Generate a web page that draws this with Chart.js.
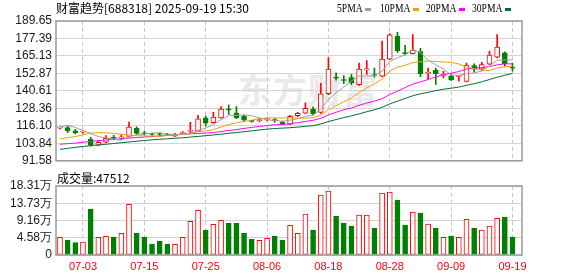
<!DOCTYPE html>
<html>
<head>
<meta charset="utf-8">
<script src="https://cdn.jsdelivr.net/npm/chart.js@4.4.0/dist/chart.umd.min.js"></script>
<style>
  body { margin: 0; background: #fff; width: 578px; height: 276px; overflow: hidden; position: relative; }
  canvas { position: absolute; left: 0; }
  #price { top: 0; }
  #vol { top: 172px; }
  .txt { position: absolute; white-space: nowrap; color: #000; }
  .title { left: 56px; top: 0px; font: 12px "Noto Sans CJK SC", sans-serif; line-height: 16px; }
  .vlabel { left: 57px; top: 170px; font: 12px "Noto Sans CJK SC", sans-serif; line-height: 16px; }
  .lg { top: 1px; font: 12px "Liberation Serif", serif; line-height: 14px; transform: scaleX(0.8); transform-origin: left; }
  .sw { position: absolute; top: 8px; width: 6px; height: 3px; }
  .wm { left: 238px; top: 71px; font: bold 34px "Noto Sans CJK SC", sans-serif; line-height: 36px; color: #e9e9e9; letter-spacing: 1px; }
</style>
</head>
<body>
<div class="txt wm">东方财富</div>
<canvas id="price" width="578" height="172"></canvas>
<canvas id="vol" width="578" height="104"></canvas>
<div class="txt title">财富趋势[688318] 2025-09-19 15:30</div>
<div class="txt lg" style="left:337px">5PMA</div><div class="sw" style="left:365px;background:#a0a0a0"></div>
<div class="txt lg" style="left:380px">10PMA</div><div class="sw" style="left:413px;background:#f0a000"></div>
<div class="txt lg" style="left:426px">20PMA</div><div class="sw" style="left:459px;background:#ff00ff"></div>
<div class="txt lg" style="left:472px">30PMA</div><div class="sw" style="left:505px;background:#006f35"></div>
<div class="txt vlabel" id="volLabel"></div>
<script>
// trading days 2025-06-30 .. 2025-09-19
const dates = [
  '06-30','07-01','07-02','07-03','07-04','07-07','07-08','07-09','07-10','07-11',
  '07-14','07-15','07-16','07-17','07-18','07-21','07-22','07-23','07-24','07-25',
  '07-28','07-29','07-30','07-31','08-01','08-04','08-05','08-06','08-07','08-08',
  '08-11','08-12','08-13','08-14','08-15','08-18','08-19','08-20','08-21','08-22',
  '08-25','08-26','08-27','08-28','08-29','09-01','09-02','09-03','09-04','09-05',
  '09-08','09-09','09-10','09-11','09-12','09-15','09-16','09-17','09-18','09-19'
];
const openP = [
  114.5,114.9,112.6,111.7,106.6,102.5,104.6,108.0,107.6,108.6,
  114.3,111.2,110.5,110.4,110.2,108.8,110.6,112.3,112.6,121.7,
  118.4,121.7,127.7,125.2,122.9,119.5,119.8,120.3,120.2,118.8,
  117.3,123.2,125.0,127.9,125.5,138.6,150.0,148.3,150.0,144.9,
  155.4,151.8,151.0,162.9,178.9,167.2,166.8,168.2,152.9,155.0,
  151.5,151.0,150.8,147.2,158.4,155.8,159.3,164.2,167.4,157.0
];
const highP = [
  115.4,115.9,113.6,112.9,108.0,105.9,109.2,109.4,110.0,118.8,
  115.4,112.5,111.0,111.2,110.8,110.9,112.0,118.6,123.4,122.9,
  125.6,129.7,130.9,129.7,123.7,119.9,121.5,121.5,121.2,119.2,
  123.4,125.6,132.2,129.4,145.9,164.0,153.3,151.3,152.2,160.1,
  161.9,156.7,175.6,180.8,181.7,172.6,180.1,170.4,156.7,156.7,
  154.3,152.6,151.6,160.1,159.6,160.6,168.5,180.1,168.0,160.1
];
const lowP = [
  113.9,111.3,110.4,110.9,101.8,102.2,104.3,106.2,106.6,108.3,
  110.0,109.5,109.3,109.4,109.2,108.6,110.2,110.6,112.2,116.1,
  118.0,121.4,124.1,121.1,119.4,118.6,118.8,119.5,118.6,116.9,
  117.0,122.6,124.6,123.6,124.8,138.0,148.1,145.6,144.9,144.5,
  152.2,150.2,150.6,162.5,167.6,165.8,166.5,150.6,148.8,145.2,
  149.8,147.8,147.5,147.0,153.8,154.6,159.0,163.8,157.9,154.5
];
const closeP = [
  114.8,112.8,111.4,112.0,102.5,104.5,107.4,107.2,108.4,115.2,
  110.8,110.5,110.0,110.0,109.7,110.2,111.0,112.7,121.1,117.9,
  122.2,127.9,127.3,121.7,120.0,119.2,120.1,120.6,119.8,117.3,
  122.7,124.9,128.4,124.6,138.6,156.0,149.5,147.9,146.2,156.0,
  155.7,151.4,162.9,180.0,168.8,166.8,169.2,152.5,153.3,152.7,
  151.8,148.5,151.2,158.7,155.8,159.0,165.8,171.3,159.8,156.6
];
const ma5 = [
  115.4,116.4,115.0,112.8,110.7,108.6,107.6,106.7,106.0,108.5,
  109.8,110.4,111.0,111.3,110.2,110.1,110.2,110.7,112.9,114.6,
  117.0,120.4,123.3,123.4,123.8,123.2,121.7,120.3,119.9,119.4,
  120.1,121.1,122.6,123.6,127.8,134.5,139.4,143.3,147.6,151.1,
  151.1,151.4,154.4,161.2,163.8,166.0,169.5,167.5,162.1,158.9,
  155.9,151.8,151.5,152.6,153.2,154.6,158.1,162.1,162.3,162.5
];
const ma10 = [
  107.0,107.8,108.6,109.8,111.0,111.3,111.2,110.8,110.2,109.6,
  109.2,109.0,108.9,108.7,109.4,109.9,110.3,110.9,112.1,112.4,
  113.5,115.3,117.0,118.2,119.2,120.1,121.0,121.8,121.7,121.6,
  121.7,121.4,121.5,121.8,123.6,127.3,130.2,133.0,135.6,139.5,
  142.8,145.4,148.9,154.4,157.4,158.5,160.5,161.0,161.7,161.3,
  160.9,160.7,159.5,157.4,156.1,155.3,154.9,156.8,157.5,157.9
];
const ma20 = [
  103.2,103.6,104.0,104.6,105.2,105.7,106.2,106.6,107.0,107.5,
  107.9,108.2,108.6,109.0,109.4,109.8,110.2,110.5,110.8,111.0,
  111.4,112.1,112.9,113.4,114.3,115.0,115.7,116.3,116.9,117.0,
  117.6,118.3,119.2,120.0,121.4,123.7,125.6,127.4,128.6,130.5,
  132.2,133.4,135.2,138.1,140.5,142.9,145.4,147.0,148.6,150.4,
  151.9,153.0,154.2,155.9,156.7,156.9,157.7,158.9,159.6,159.6
];
const ma30 = [
  99.6,100.3,101.0,101.6,102.2,102.7,103.2,103.7,104.3,104.8,
  105.3,105.8,106.3,106.7,107.0,107.4,107.7,108.2,108.7,109.2,
  109.7,110.3,110.9,111.4,112.0,112.6,113.2,113.8,114.2,114.5,
  114.8,115.2,115.8,116.2,117.4,119.1,120.5,121.9,123.1,124.5,
  126.0,127.4,129.1,131.5,133.4,135.3,137.2,138.6,139.6,140.8,
  141.8,142.5,143.3,144.5,145.7,147.0,148.6,150.2,151.6,152.9
];
const volume = [
  47000,39800,32700,34500,122100,47000,49600,47800,57500,134500,
  58400,47800,29200,37200,29200,28300,47000,89400,118500,66400,
  81400,92000,84900,84900,58400,41600,38900,44200,50400,39800,
  78700,57500,108800,66400,159200,169900,103500,84900,77000,106200,
  106200,71700,164500,167200,146000,79600,114100,111500,82300,71700,
  46900,50400,46900,94700,71700,66400,77000,97300,100900,47512
];
const priceTicks = [91.58, 103.84, 116.10, 128.36, 140.61, 152.87, 165.13, 177.39, 189.65];
const volTicks = [0, 45800, 91550, 137300, 183100];
const volTickLabels = ['0', '4.58万', '9.16万', '13.73万', '18.31万'];
const xTickLabels = ['07-03', '07-15', '07-25', '08-06', '08-18', '08-28', '09-09', '09-19'];

const RED = '#ff0000';
const GREEN = '#008000';
const idx = dates.map((_, i) => i);
const isUp = i => closeP[i] >= openP[i];
const xTicks = xTickLabels.map(l => dates.indexOf(l));
const tickFont = { family: '"Liberation Sans", Arial, sans-serif', size: 12 };

document.getElementById('volLabel').textContent = '成交量:' + volume[volume.length - 1];

const framePlugin = {
  id: 'frame',
  afterDraw(chart) {
    const { ctx, chartArea: a } = chart;
    ctx.save();
    ctx.strokeStyle = '#9a9a9a';
    ctx.lineWidth = 1.5;
    ctx.strokeRect(a.left, a.top, a.right - a.left, a.bottom - a.top);
    ctx.restore();
  }
};

function xAxis(showLabels) {
  return {
    type: 'linear',
    min: -0.52,
    max: 60.24,
    offset: false,
    afterBuildTicks: s => { s.ticks = xTicks.map(v => ({ value: v })); },
    afterFit: s => { s.height = showLabels ? 21 : 0; },
    grid: { color: '#c8c8c8', lineWidth: 1, drawTicks: false, offset: false },
    border: { display: false, dash: [4, 3] },
    ticks: {
      display: showLabels,
      autoSkip: false,
      maxRotation: 0,
      padding: 5,
      color: RED,
      font: { family: '"Liberation Sans", Arial, sans-serif', size: 11 },
      callback: v => dates[v]
    }
  };
}

function yAxis(ticks, label) {
  return {
    min: ticks[0],
    max: ticks[ticks.length - 1],
    afterBuildTicks: s => { s.ticks = ticks.map(v => ({ value: v })); },
    afterFit: s => { s.width = 56; },
    grid: { color: '#d4d4d4', drawTicks: false },
    border: { display: false },
    ticks: { autoSkip: false, padding: 4, color: '#1a1a1a', font: tickFont, callback: label }
  };
}

function maLine(data, color) {
  return {
    type: 'line',
    data: idx.map(i => ({ x: i, y: data[i] })),
    borderColor: color,
    borderWidth: 1,
    pointRadius: 0,
    tension: 0,
    order: 0
  };
}

new Chart(document.getElementById('price'), {
  type: 'bar',
  data: {
    datasets: [
      maLine(ma5, '#a0a0a0'),
      maLine(ma10, '#f0a000'),
      maLine(ma20, '#ff00ff'),
      maLine(ma30, '#006f35'),
      {
        data: idx.map(i => ({ x: i, y: [openP[i], closeP[i]] })),
        backgroundColor: idx.map(i => isUp(i) ? '#ffffff' : GREEN),
        borderColor: idx.map(i => isUp(i) ? RED : GREEN),
        borderWidth: 1,
        borderSkipped: false,
        barThickness: 5,
        minBarLength: 1,
        grouped: false,
        order: 1
      },
      {
        data: idx.map(i => ({ x: i, y: [lowP[i], highP[i]] })),
        backgroundColor: idx.map(i => isUp(i) ? RED : GREEN),
        barThickness: 1,
        grouped: false,
        order: 2
      }
    ]
  },
  options: {
    responsive: false,
    animation: false,
    devicePixelRatio: 1,
    layout: { padding: { top: 21, right: 56, bottom: 7, left: 0 } },
    plugins: { legend: { display: false }, tooltip: { enabled: false } },
    scales: {
      x: xAxis(false),
      y: yAxis(priceTicks, v => v.toFixed(2))
    }
  },
  plugins: [framePlugin]
});

new Chart(document.getElementById('vol'), {
  type: 'bar',
  data: {
    datasets: [{
      data: idx.map(i => ({ x: i, y: volume[i] })),
      backgroundColor: idx.map(i => isUp(i) ? '#ffffff' : GREEN),
      borderColor: idx.map(i => isUp(i) ? RED : GREEN),
      borderWidth: 1,
      borderSkipped: false,
      barThickness: 5
    }]
  },
  options: {
    responsive: false,
    animation: false,
    devicePixelRatio: 1,
    layout: { padding: { top: 14, right: 56, bottom: 0, left: 0 } },
    plugins: { legend: { display: false }, tooltip: { enabled: false } },
    scales: {
      x: xAxis(true),
      y: yAxis(volTicks, v => volTickLabels[volTicks.indexOf(v)])
    }
  },
  plugins: [framePlugin]
});
</script>
</body>
</html>
